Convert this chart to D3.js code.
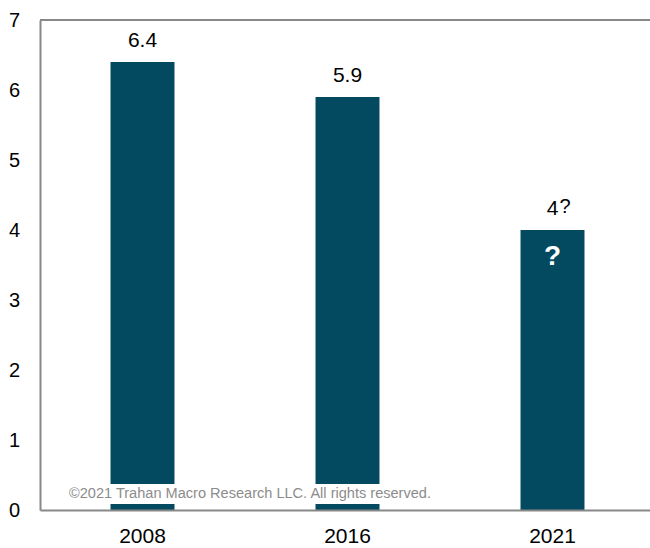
<!DOCTYPE html>
<html>
<head>
<meta charset="utf-8">
<script src="https://cdn.jsdelivr.net/npm/d3@7"></script>
<style>
  html, body { margin: 0; padding: 0; background: #fff; }
  svg { display: block; font-family: "Liberation Sans", Arial, sans-serif; }
</style>
</head>
<body>
<svg id="chart" width="650" height="548"></svg>
<script>
// Years on the category axis and their values
const years = ["2008", "2016", "2021"];
const values = [6.4, 5.9, 4];
// Value labels above each bar (the last one is uncertain)
const valueLabels = ["6.4", "5.9", "4"];
const uncertain = [false, false, true];
const yTicks = [0, 1, 2, 3, 4, 5, 6, 7];
const copyright = "\u00A92021 Trahan Macro Research LLC. All rights reserved.";

const barColor = "#03495f";
const axisColor = "#888888";

const svg = d3.select("#chart");
const plotLeft = 40, plotTop = 20, plotBottom = 510, plotRight = 655;

const x = d3.scaleBand()
  .domain(years)
  .range([plotLeft, plotRight])
  .paddingInner(0.688)
  .paddingOuter(0.344);

const y = d3.scaleLinear().domain([0, 7]).range([plotBottom, plotTop]);

// Bars
svg.selectAll("rect.bar")
  .data(years)
  .join("rect")
  .attr("class", "bar")
  .attr("x", d => x(d))
  .attr("width", x.bandwidth())
  .attr("y", (d, i) => y(values[i]))
  .attr("height", (d, i) => y(0) - y(values[i]))
  .attr("fill", barColor);

// Value labels
svg.selectAll("text.val")
  .data(years)
  .join("text")
  .attr("class", "val")
  .attr("x", d => x(d) + x.bandwidth() / 2)
  .attr("y", (d, i) => y(values[i]) - 15)
  .attr("text-anchor", "middle")
  .attr("font-size", 21)
  .attr("fill", "#000")
  .text((d, i) => valueLabels[i]);

// Question marks for the uncertain value
years.forEach((d, i) => {
  if (!uncertain[i]) return;
  const cx = x(d) + x.bandwidth() / 2;
  svg.append("text")
    .attr("x", cx + 7)
    .attr("y", y(values[i]) - 17)
    .attr("font-size", 20)
    .attr("fill", "#000")
    .text("?");
  svg.append("text")
    .attr("x", cx)
    .attr("y", y(values[i]) + 35)
    .attr("text-anchor", "middle")
    .attr("font-size", 28)
    .attr("font-weight", "bold")
    .attr("fill", "#fff")
    .text("?");
});

// Copyright note with a white backing
const note = svg.append("g");
const noteBg = note.append("rect").attr("fill", "#fff");
note.append("text")
  .attr("x", 69)
  .attr("y", 498)
  .attr("font-size", 14)
  .attr("fill", "#8c8c8c")
  .attr("textLength", 362)
  .attr("lengthAdjust", "spacingAndGlyphs")
  .text(copyright);
noteBg.attr("x", 64).attr("y", 484).attr("width", 372).attr("height", 20);

// Frame: top edge of the plot area
svg.append("line")
  .attr("x1", plotLeft).attr("x2", 650)
  .attr("y1", plotTop).attr("y2", plotTop)
  .attr("stroke", axisColor).attr("stroke-width", 2);

// Y axis
const yAxis = d3.axisLeft(y).tickValues(yTicks).tickSize(0).tickPadding(20).tickFormat(d3.format("d"));
const gy = svg.append("g").attr("transform", `translate(${plotLeft},0)`).call(yAxis);
gy.select(".domain").attr("stroke", axisColor).attr("stroke-width", 2);
gy.selectAll("text").attr("font-size", 20).attr("fill", "#000").attr("font-family", "Liberation Sans, Arial, sans-serif");

// X axis
const xAxis = d3.axisBottom(x).tickSize(0).tickPadding(18);
const gx = svg.append("g").attr("transform", `translate(0,${plotBottom})`).call(xAxis);
gx.select(".domain").attr("stroke", axisColor).attr("stroke-width", 2);
gx.selectAll("text").attr("font-size", 21).attr("fill", "#000").attr("font-family", "Liberation Sans, Arial, sans-serif");
</script>
</body>
</html>
